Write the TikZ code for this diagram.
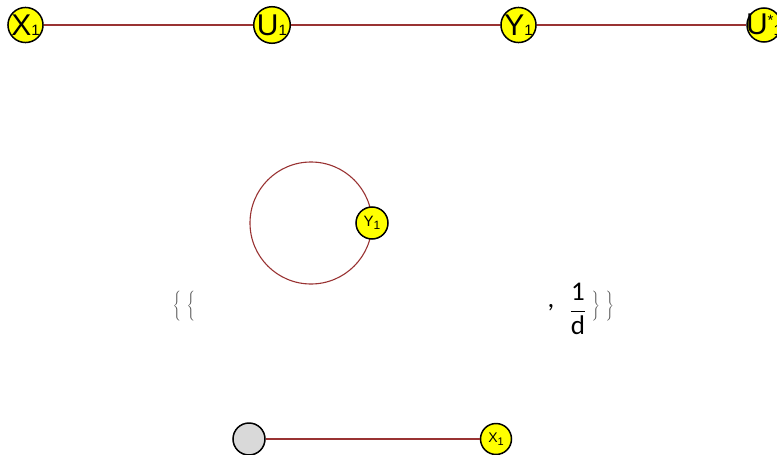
\documentclass[tikz,border=0pt]{standalone}
\usepackage{fontspec}
\setmainfont{Liberation Sans}
\newfontfamily\exprfont{Carlito}
\usetikzlibrary{backgrounds}
\definecolor{edgeRed}{HTML}{993333}
\definecolor{vtxYellow}{HTML}{FFFF00}
\definecolor{vtxGray}{HTML}{D9D9D9}
\definecolor{braceGray}{HTML}{4A4A4A}
% vertex names: letter, subscript, sizes, drop of subscript
\newcommand{\vname}[5]{{\fontsize{#3}{#3}\selectfont #1}{\fontsize{#4}{#4}\selectfont\raisebox{#5}{#2}}}

\begin{document}
\begin{tikzpicture}[x=1pt, y=-1pt,
  vtx/.style={circle, draw=black, line width=1.5pt, fill=vtxYellow, minimum size=34pt, inner sep=0pt},
  smallvtx/.style={vtx, minimum size=32pt},
  edge/.style={edgeRed, line width=1.1pt},
  expr/.style={font=\exprfont\fontsize{27}{27}\selectfont, inner sep=0pt},
  brace/.style={text=braceGray, inner sep=0pt}]
  \useasboundingbox (0,0) rectangle (777,455);
  \clip (0,0) rectangle (777,455);
  % row 1: path graph
  \node[vtx] (x1) at (25.5,25) {\vname{X}{1}{30}{15}{0pt}};
  \node[vtx] (u1) at (272,25) {\vname{U}{1}{30}{15}{0pt}};
  \node[vtx] (y1) at (518.5,25) {\vname{Y}{1}{30}{15}{0pt}};
  \node[vtx, label={[inner sep=0pt]center:{{\fontsize{30}{30}\selectfont U}{\fontsize{15}{15}\selectfont\raisebox{9pt}{*}\raisebox{-1pt}{1}}}}] (ustar) at (764,25) {};
  \draw[edge] (x1) -- (u1);
  \draw[edge] (u1) -- (y1);
  \draw[edge] (y1) -- (ustar);
  % row 2: loop
  \node[smallvtx] (y1m) at (372,223) {\vname{Y}{1}{15}{12}{-3pt}};
  \begin{scope}[on background layer]
    \draw[edge] (y1m.center) arc[start angle=0, end angle=360, radius=61];
  \end{scope}
  % row 3: braces and weight
  \node[brace] (lbr) at (184,306) {$\Bigg\{\kern6pt\Bigg\{$};
  \node[expr] (comma) at (551,308) {,};
  \node[expr] (wt) at (578,309) {$\displaystyle\frac{\hbox{1}}{\hbox{d}}$};
  \node[brace] (rbr) at (603,306) {$\Bigg\}\kern6pt\Bigg\}$};
  % row 4: single edge
  \node[smallvtx, fill=vtxGray] (g1) at (249,439) {};
  \node[vtx, minimum size=31pt] (x1b) at (496,439) {\vname{X}{1}{14}{11}{-3pt}};
  \draw[edge] (g1) -- (x1b);
\end{tikzpicture}
\end{document}
